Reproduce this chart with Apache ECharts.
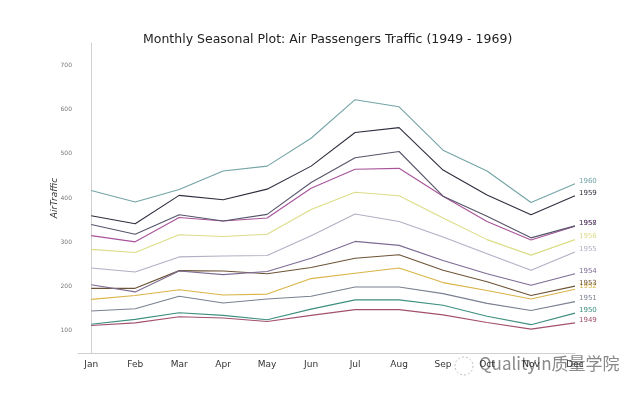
<!DOCTYPE html>
<html><head><meta charset="utf-8">
<script src="https://cdn.jsdelivr.net/npm/echarts@6/dist/echarts.min.js"></script>
<style>html,body{margin:0;padding:0;background:#fff}#c{width:641px;height:393px}</style>
</head><body><div id="c"></div>
<script>
const months = ['Jan','Feb','Mar','Apr','May','Jun','Jul','Aug','Sep','Oct','Nov','Dec'];
const years = ['1949','1950','1951','1952','1953','1954','1955','1956','1957','1958','1959','1960'];
const v1949 = [112,118,132,129,121,135,148,148,136,119,104,118];
const v1950 = [115,126,141,135,125,149,170,170,158,133,114,140];
const v1951 = [145,150,178,163,172,178,199,199,184,162,146,166];
const v1952 = [171,180,193,181,183,218,230,242,209,191,172,194];
const v1953 = [196,196,236,235,229,243,264,272,237,211,180,201];
const v1954 = [204,188,235,227,234,264,302,293,259,229,203,229];
const v1955 = [242,233,267,269,270,315,364,347,312,274,237,278];
const v1956 = [284,277,317,313,318,374,413,405,355,306,271,306];
const v1957 = [315,301,356,348,355,422,465,467,404,347,305,336];
const v1958 = [340,318,362,348,363,435,491,505,404,359,310,337];
const v1959 = [360,342,406,396,420,472,548,559,463,407,362,405];
const v1960 = [417,391,419,461,472,535,622,606,508,461,390,432];
const yTicks = [100,200,300,400,500,600,700];
const colors = ['#a2506e','#3d8f7f','#7a8090','#d9b447','#6e5436','#7c6c94','#b5aec4','#dcdc88','#a8549a','#55556a','#2e2e3e','#74a4a6'];
const allVals = [v1949,v1950,v1951,v1952,v1953,v1954,v1955,v1956,v1957,v1958,v1959,v1960];

const chart = echarts.init(document.getElementById('c'));
const series = years.map((y,i)=>({
  name:y, type:'line', symbol:'none', clip:false,
  data: allVals[i].map((v,j)=>[j,v]),
  lineStyle:{width:1.1,color:colors[i]},
  itemStyle:{color:colors[i]},
  endLabel:{show:true, formatter:y, color:colors[i], fontSize:7, fontFamily:'DejaVu Sans', distance:4, offset:[0,-3]}
}));
chart.setOption({
  animation:false,
  backgroundColor:'#fff',
  title:{text:'Monthly Seasonal Plot: Air Passengers Traffic (1949 - 1969)', left:138, top:28,
    textStyle:{fontFamily:'DejaVu Sans', fontSize:12.5, fontWeight:'normal', color:'#222'}},
  grid:{left:78, right:66, top:43, bottom:40},
  xAxis:{type:'value', min:-0.3, max:11,
    axisLine:{show:true, lineStyle:{color:'#d0d0d0', width:1}},
    axisTick:{show:false}, splitLine:{show:false},
    axisLabel:{customValues:[0,1,2,3,4,5,6,7,8,9,10,11], formatter:v=>months[Math.round(v)],
      fontFamily:'DejaVu Sans', fontSize:9, color:'#333', margin:7}},
  yAxis:{type:'value', min:50, max:750, name:'AirTraffic', nameLocation:'middle', nameGap:19, nameMoveOverlap:false,
    nameTextStyle:{fontFamily:'DejaVu Sans', fontStyle:'italic', fontSize:9, color:'#333'},
    axisLine:{show:true, lineStyle:{color:'#d0d0d0', width:1}},
    axisTick:{show:false}, splitLine:{show:false},
    axisLabel:{customValues:yTicks, fontFamily:'DejaVu Sans', fontSize:6, color:'#777', margin:6}},
  series:series,
  graphic:[{type:'text', left:478, top:354, style:{text:'QualityIn质量学院', fill:'#8a8a8a',
    font:'17px "Noto Sans CJK SC"', stroke:'#ffffff', lineWidth:2}},
    {type:'circle', shape:{cx:464, cy:366, r:9}, style:{fill:'#fff', stroke:'#c0c0c0', lineWidth:1, lineDash:[2,2]}}]
});
</script></body></html>
